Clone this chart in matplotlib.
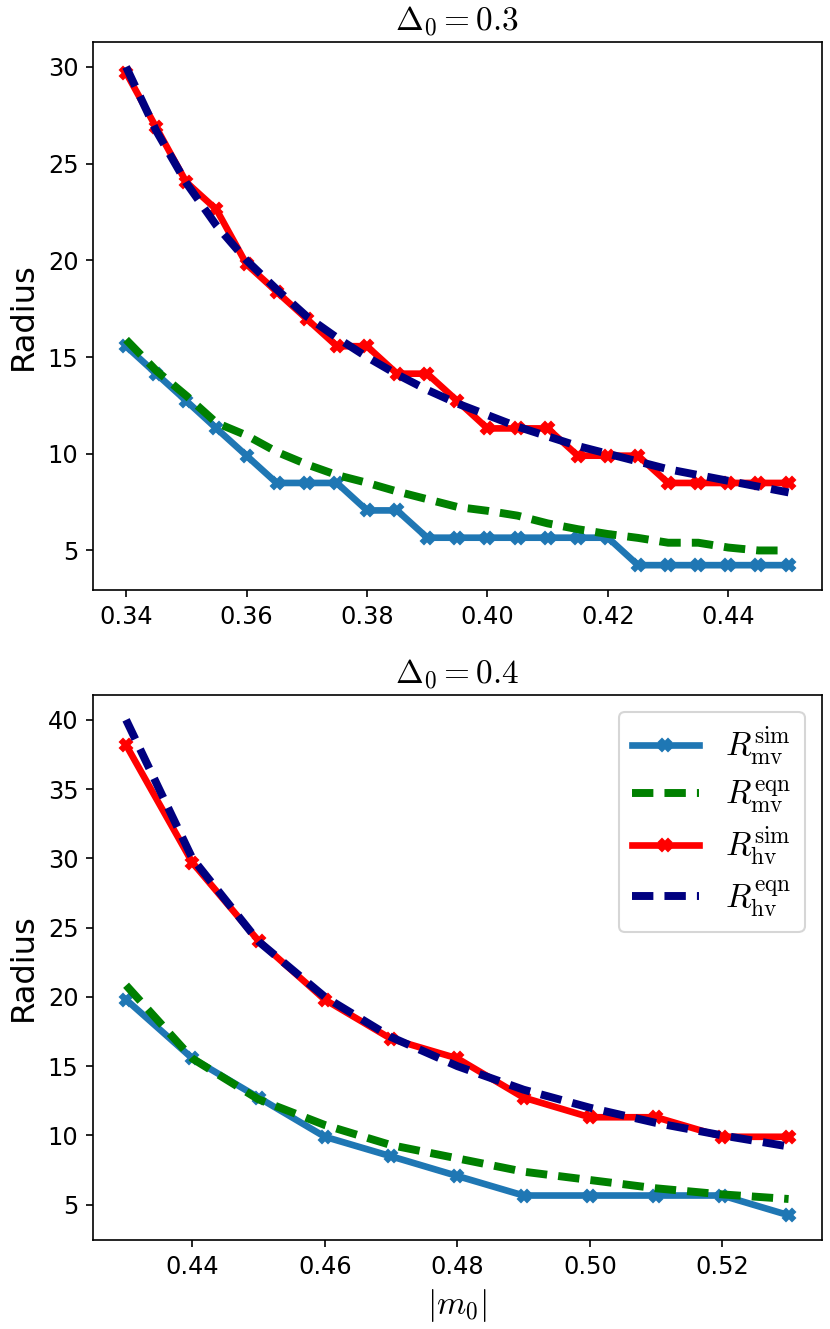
import matplotlib
matplotlib.use("Agg")
import matplotlib.pyplot as plt

plt.rcParams['mathtext.fontset'] = 'cm'

# ---- data: Delta_0 = 0.3 ----
m_top = [0.340, 0.345, 0.350, 0.355, 0.360, 0.365, 0.370, 0.375, 0.380, 0.385,
         0.390, 0.395, 0.400, 0.405, 0.410, 0.415, 0.420, 0.425, 0.430, 0.435,
         0.440, 0.445, 0.450]
mv_sim_top = [15.56, 14.14, 12.73, 11.31, 9.90, 8.49, 8.49, 8.49, 7.07, 7.07,
              5.66, 5.66, 5.66, 5.66, 5.66, 5.66, 5.66, 4.24, 4.24, 4.24,
              4.24, 4.24, 4.24]
mv_eqn_top = [15.9, 14.3, 13.0, 11.6, 10.95, 10.1, 9.45, 8.9, 8.5, 8.05,
              7.65, 7.25, 7.05, 6.8, 6.4, 6.1, 5.85, 5.65, 5.4, 5.4,
              5.15, 5.0, 5.0]
hv_sim_top = [29.70, 26.87, 24.04, 22.63, 19.80, 18.38, 16.97, 15.56, 15.56, 14.14,
              14.14, 12.73, 11.31, 11.31, 11.31, 9.90, 9.90, 9.90, 8.49, 8.49,
              8.49, 8.49, 8.49]
hv_eqn_top = [30.0, 26.7, 24.0, 21.8, 20.0, 18.5, 17.1, 16.0, 15.0, 14.1,
              13.3, 12.6, 12.0, 11.4, 10.9, 10.4, 10.0, 9.6, 9.2, 8.9,
              8.6, 8.3, 8.0]

# ---- data: Delta_0 = 0.4 ----
m_bot = [0.43, 0.44, 0.45, 0.46, 0.47, 0.48, 0.49, 0.50, 0.51, 0.52, 0.53]
mv_sim_bot = [19.80, 15.56, 12.73, 9.90, 8.49, 7.07, 5.66, 5.66, 5.66, 5.66, 4.24]
mv_eqn_bot = [20.84, 15.55, 12.6, 10.75, 9.3, 8.34, 7.38, 6.78, 6.18, 5.74, 5.41]
hv_sim_bot = [38.18, 29.70, 24.04, 19.80, 16.97, 15.56, 12.73, 11.31, 11.31, 9.90, 9.90]
hv_eqn_bot = [40.0, 30.0, 24.0, 20.0, 17.1, 15.0, 13.3, 12.0, 10.9, 10.0, 9.2]

titles = [r'$\Delta_0 = 0.3$', r'$\Delta_0 = 0.4$']
labels = [r'$R_{\mathrm{mv}}^{\mathrm{sim}}$', r'$R_{\mathrm{mv}}^{\mathrm{eqn}}$',
          r'$R_{\mathrm{hv}}^{\mathrm{sim}}$', r'$R_{\mathrm{hv}}^{\mathrm{eqn}}$']

fig = plt.figure(figsize=(830/150, 1329/150), dpi=150)
ax1 = fig.add_axes([0.112, 0.556, 0.878, 0.4124])
ax2 = fig.add_axes([0.112, 0.067, 0.878, 0.410])

dash = (0, (2.7, 1.4))

def draw(ax, m, mvs, mve, hvs, hve):
    ax.plot(m, mvs, color='#1f77b4', lw=3.2, marker='X', ms=6, label=labels[0])
    ax.plot(m, mve, color='green', lw=3.8, ls=dash, label=labels[1])
    ax.plot(m, hvs, color='red', lw=3.2, marker='X', ms=6, label=labels[2])
    ax.plot(m, hve, color='navy', lw=3.8, ls=dash, label=labels[3])
    ax.set_ylabel('Radius', fontsize=15.5)
    ax.tick_params(labelsize=11.5)

draw(ax1, m_top, mv_sim_top, mv_eqn_top, hv_sim_top, hv_eqn_top)
draw(ax2, m_bot, mv_sim_bot, mv_eqn_bot, hv_sim_bot, hv_eqn_bot)

ax1.set_title(titles[0], fontsize=16)
ax2.set_title(titles[1], fontsize=16)
ax1.set_xticks([0.34, 0.36, 0.38, 0.40, 0.42, 0.44])
ax2.set_xticks([0.44, 0.46, 0.48, 0.50, 0.52])
ax2.set_xlabel(r'$|m_0|$', fontsize=16)
ax2.legend(loc='upper right', fontsize=16, labelspacing=0.3, handlelength=2.0)

fig.savefig('out.png', dpi=150)
